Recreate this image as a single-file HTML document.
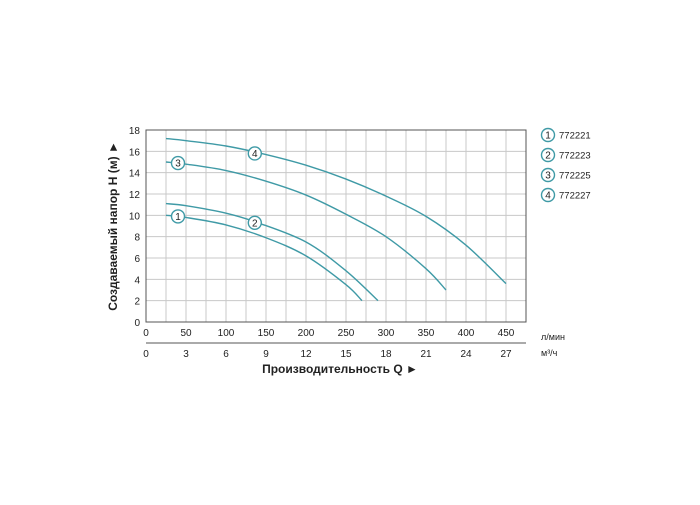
<!DOCTYPE html>
<html><head><meta charset="utf-8"><style>
body{margin:0;background:#fff;}
svg text{font-family:"Liberation Sans",Arial,sans-serif;fill:#222;}
</style></head><body>
<svg width="700" height="500" viewBox="0 0 700 500">
<g id="grid"></g>
<g id="curves"></g>
<g id="axes"></g>
<text x="117" y="226" font-size="12" font-weight="bold" text-anchor="middle" transform="rotate(-90 117 226)">Создаваемый напор H (м) ►</text>
<text x="340" y="373" font-size="12" font-weight="bold" text-anchor="middle">Производительность Q ►</text>
<text x="541" y="340" font-size="9">л/мин</text>
<text x="541" y="356" font-size="9">м³/ч</text>
<g id="legend"></g>
</svg>
<script>
const xTicks=[0,50,100,150,200,250,300,350,400,450];
const yTicks=[0,2,4,6,8,10,12,14,16,18];
const m3Ticks=[0,3,6,9,12,15,18,21,24,27];
const seriesNames=["772221","772223","772225","772227"];
const s1Q=[25,50,100,150,200,250,270], s1H=[10,9.8,9.1,7.9,6.2,3.5,2];
const s2Q=[25,50,100,140,200,250,290], s2H=[11.1,10.9,10.2,9.3,7.5,4.8,2];
const s3Q=[25,50,100,150,200,250,300,350,375], s3H=[15,14.8,14.2,13.2,11.9,10.1,8,5,3];
const s4Q=[25,50,100,150,200,250,300,350,400,450], s4H=[17.2,17,16.5,15.7,14.7,13.4,11.8,9.9,7.2,3.6];
const markerQ=[40,136,40,136], markerH=[9.9,9.3,14.9,15.8];
const NS="http://www.w3.org/2000/svg";
const X0=146,X1=526,Y0=322,Y1=130,XMAX=475,YMAX=18;
const sx=v=>X0+v*(X1-X0)/XMAX, sy=v=>Y0-v*(Y0-Y1)/YMAX;
const sm=v=>sx(v*50/3);
function mk(t,a,p){const e=document.createElementNS(NS,t);for(const k in a)e.setAttribute(k,a[k]);p.appendChild(e);return e;}
const g=document.getElementById('grid'),ax=document.getElementById('axes'),cv=document.getElementById('curves'),lg=document.getElementById('legend');
for(let v=25;v<XMAX;v+=25){const l=mk('line',{x1:sx(v),x2:sx(v),y1:Y1,y2:Y0,stroke:'#c8c8c8','stroke-width':1},g);

}
for(let v=2;v<YMAX;v+=2){const l=mk('line',{x1:X0,x2:X1,y1:sy(v),y2:sy(v),stroke:'#c8c8c8','stroke-width':1},g);

}
const fr=mk('rect',{x:X0,y:Y1,width:X1-X0,height:Y0-Y1,fill:'none',stroke:'#555','stroke-width':1},ax);


xTicks.forEach(v=>{const t=mk('text',{x:sx(v),y:Y0+14,'font-size':10,'text-anchor':'middle'},ax);t.textContent=v;

});
yTicks.forEach(v=>{const t=mk('text',{x:X0-6,y:sy(v)+4,'font-size':10,'text-anchor':'end'},ax);t.textContent=v;

});
const bl=mk('line',{x1:X0,x2:X1,y1:343,y2:343,stroke:'#555'},ax);


m3Ticks.forEach(v=>{const t=mk('text',{x:sm(v),y:357,'font-size':10,'text-anchor':'middle'},ax);t.textContent=v;

});
const C='#3f9aa6';
[[s1Q,s1H],[s2Q,s2H],[s3Q,s3H],[s4Q,s4H]].forEach((s,i)=>{
 const pts=s[0].map((q,j)=>[sx(q),sy(s[1][j])]);
 let d='M'+pts[0];
 for(let j=0;j<pts.length-1;j++){const p0=pts[j-1]||pts[j],p1=pts[j],p2=pts[j+1],p3=pts[j+2]||p2;
  d+=' C'+(p1[0]+(p2[0]-p0[0])/6)+','+(p1[1]+(p2[1]-p0[1])/6)+' '+(p2[0]-(p3[0]-p1[0])/6)+','+(p2[1]-(p3[1]-p1[1])/6)+' '+p2;}
 const p=mk('path',{d:d,fill:'none',stroke:C,'stroke-width':1.4},cv);
 
 
 const c=mk('circle',{cx:sx(markerQ[i]),cy:sy(markerH[i]),r:6.5,fill:'#fff',stroke:C,'stroke-width':1.4},cv);
 
 
 const t=mk('text',{x:sx(markerQ[i]),y:sy(markerH[i])+3.5,'font-size':10,'text-anchor':'middle'},cv);t.textContent=i+1;
 
 
 const y=135+i*20;
 const lc=mk('circle',{cx:548,cy:y,r:6.5,fill:'#fff',stroke:C,'stroke-width':1.4},lg);
 
 
 const ln=mk('text',{x:548,y:y+3.5,'font-size':10,'text-anchor':'middle'},lg);ln.textContent=i+1;
 
 
 const lt=mk('text',{x:559,y:y+3.5,'font-size':9.5},lg);lt.textContent=seriesNames[i];
 
 
});
</script>
</body></html>
